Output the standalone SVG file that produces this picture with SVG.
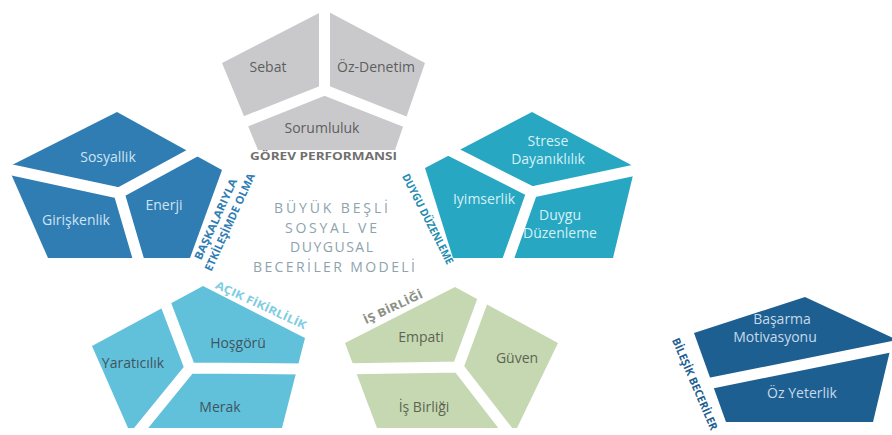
<svg xmlns="http://www.w3.org/2000/svg" width="892" height="435" viewBox="0 0 892 435">
<style>
.gap{stroke:#fff;stroke-width:11;fill:none;stroke-linecap:round;stroke-linejoin:round}
.t{font-family:"Open Sans","Liberation Sans",sans-serif;font-size:14px;text-anchor:middle}
.lbl{font-family:"Open Sans","Liberation Sans",sans-serif;font-weight:700;font-size:11px;text-anchor:middle}
.title{font-family:"Open Sans","Liberation Sans",sans-serif;font-size:14px;fill:#8ea3ae;text-anchor:middle}
.gray{fill:#5e5e5e}.blue{fill:#cfe4f2}.teal{fill:#d6f0f6}.lblue{fill:#3f5560}.green{fill:#5d6552}.navy{fill:#c5daea}
</style>
<rect width="892" height="435" fill="#fff"/>
<g id="connectors"/>

<g id="gorev-performansi">
<polygon points="325,10 425,63 395,150 258,150 222,63" fill="#c9c9cc"/>
<path class="gap" d="M324.5,-6 V90 M234,126 L324.5,90 L416,126"/>
<text class="t gray" x="268" y="72">Sebat</text>
<text class="t gray" x="376" y="72">Öz-Denetim</text>
<text class="t gray" x="322" y="133">Sorumluluk</text>
<text class="lbl" x="323.5" y="159.5" font-size="12" fill="#707070" textLength="147" lengthAdjust="spacingAndGlyphs">GÖREV PERFORMANSI</text>
</g>

<g id="baskalariyla-etkilesimde-olma">
<polygon points="8,167 117,112 222,170 190,258 48,258" fill="#2f7db3"/>
<path class="gap" d="M-2,167 L119,193 L200,149 M119,193 L141,268"/>
<text class="t blue" x="108" y="162">Sosyallik</text>
<text class="t blue" x="76" y="225">Girişkenlik</text>
<text class="t blue" x="164" y="210">Enerji</text>
<g transform="translate(222,222) rotate(-65.5)">
<text class="lbl" y="-3" fill="#2f7db3" textLength="88" lengthAdjust="spacingAndGlyphs">BAŞKALARIYLA</text>
<text class="lbl" x="3" y="11" fill="#2f7db3" textLength="106" lengthAdjust="spacingAndGlyphs">ETKİLEŞİMDE OLMA</text>
</g>
</g>

<g id="duygu-duzenleme">
<polygon points="425,168 532,112 635,167 613,258 453,258" fill="#27a7c2"/>
<path class="gap" d="M445,148 L532,192 L645,168 M532,192 L505,268"/>
<text class="t teal" x="548" y="146" font-size="13">Strese</text>
<text class="t teal" x="548" y="163.5" font-size="13">Dayanıklılık</text>
<text class="t teal" x="484" y="204">Iyimserlik</text>
<text class="t teal" x="560" y="220" font-size="13">Duygu</text>
<text class="t teal" x="560" y="237.5" font-size="13">Düzenleme</text>
<g transform="translate(428,219) rotate(63)">
<text class="lbl" y="4" fill="#1f8db3" textLength="100" lengthAdjust="spacingAndGlyphs">DUYGU DÜZENLEME</text>
</g>
</g>

<g id="acik-fikirlilik">
<polygon points="203,286 305,338 282,428 128,428 92,346" fill="#62c1da"/>
<path class="gap" d="M163,297 L190,368 L304,369 M190,368 L133,438"/>
<text class="t lblue" x="238" y="348">Hoşgörü</text>
<text class="t lblue" x="133" y="368">Yaratıcılık</text>
<text class="t lblue" x="220" y="412">Merak</text>
<g transform="translate(261,305) rotate(25)">
<text class="lbl" y="4" fill="#7fcde2" textLength="99" lengthAdjust="spacingAndGlyphs">AÇIK FİKİRLİLİK</text>
</g>
</g>

<g id="is-birligi">
<polygon points="345,343 455,287 558,343 517,428 377,428" fill="#c6d8b2"/>
<path class="gap" d="M485,294 L458,367 L338,369 M458,367 L513,438"/>
<text class="t green" x="421" y="342">Empati</text>
<text class="t green" x="517" y="363">Güven</text>
<text class="t green" x="424" y="412">İş Birliği</text>
<g transform="translate(393,307) rotate(-25)">
<text class="lbl" y="4" fill="#8b9186" textLength="64" lengthAdjust="spacingAndGlyphs">İŞ BİRLİĞİ</text>
</g>
</g>

<g id="bilesik-beceriler">
<polygon points="694,333 805,297 893,338 873,422 726,422" fill="#1e5f91"/>
<path class="gap" d="M709,383.5 L900,345" stroke-width="10"/>
<text class="t navy" x="782" y="324" font-size="12">Başarma</text>
<text class="t navy" x="775" y="341.5" font-size="12">Motivasyonu</text>
<text class="t navy" x="802" y="398" font-size="12.5">Öz Yeterlik</text>
<g transform="translate(695,384) rotate(66.7)">
<text class="lbl" y="4" fill="#1e5f91" textLength="99" lengthAdjust="spacingAndGlyphs">BİLEŞİK BECERİLER</text>
</g>
</g>

<g id="model-title">
<text class="title" x="331" y="213" textLength="114">BÜYÜK BEŞLİ</text>
<text class="title" x="331" y="232.7" textLength="92">SOSYAL VE</text>
<text class="title" x="331.5" y="252.3" textLength="83">DUYGUSAL</text>
<text class="title" x="334" y="272" textLength="162">BECERİLER MODELİ</text>
</g>
</svg>
